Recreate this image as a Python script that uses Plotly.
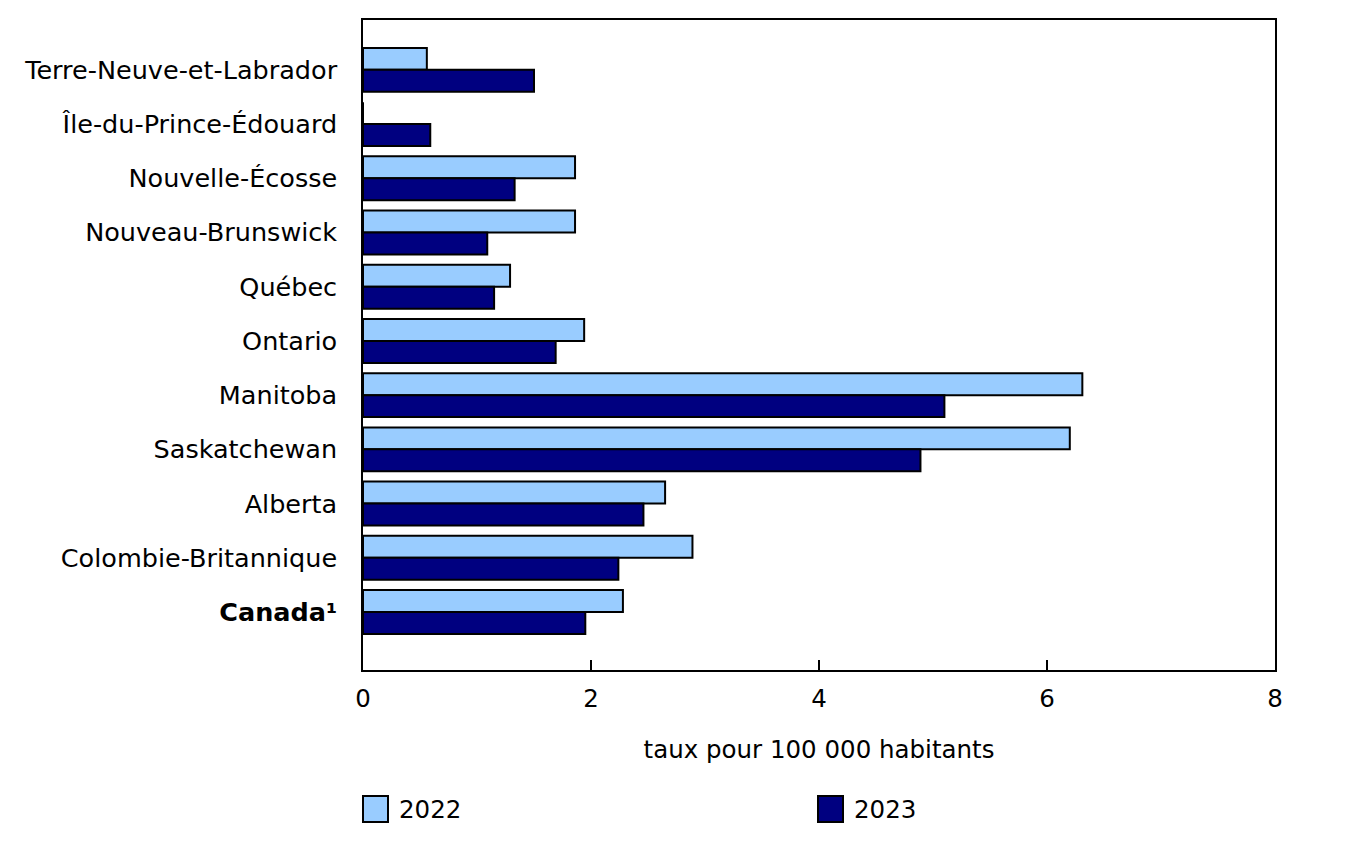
import plotly.graph_objects as go

categories = ["Terre-Neuve-et-Labrador", "Île-du-Prince-Édouard", "Nouvelle-Écosse",
              "Nouveau-Brunswick", "Québec", "Ontario", "Manitoba", "Saskatchewan",
              "Alberta", "Colombie-Britannique", "Canada¹"]
tick_labels = ["Terre-Neuve-et-Labrador", "Île-du-Prince-Édouard", "Nouvelle-Écosse",
               "Nouveau-Brunswick", "Québec", "Ontario", "Manitoba", "Saskatchewan",
               "Alberta", "Colombie-Britannique", "<b>Canada¹</b>"]
values_2022 = [0.56, 0.0, 1.86, 1.86, 1.29, 1.94, 6.31, 6.20, 2.65, 2.89, 2.28]
values_2023 = [1.50, 0.59, 1.33, 1.09, 1.15, 1.69, 5.10, 4.89, 2.46, 2.24, 1.95]
x_ticks = [0, 2, 4, 6, 8]
series_names = ["2022", "2023"]
series_colors = ["#99CCFF", "#000080"]

font_family = "DejaVu Sans, Verdana, sans-serif"
FS = 24.5

fig = go.Figure()
for name, vals, col in zip(series_names, [values_2022, values_2023], series_colors):
    fig.add_trace(go.Bar(y=categories, x=vals, orientation="h", name=name,
                         marker=dict(color=col, line=dict(color="black", width=2)),
                         showlegend=False))

# legend drawn as boxes + labels below the plot
legend_offsets = [0, 455]
for name, col, off in zip(series_names, series_colors, legend_offsets):
    fig.add_shape(type="rect", xref="paper", yref="paper",
                  xsizemode="pixel", ysizemode="pixel",
                  xanchor=0, yanchor=0, x0=off, x1=off + 25, y0=-126, y1=-152,
                  fillcolor=col, line=dict(color="black", width=2))
    fig.add_annotation(xref="paper", yref="paper", x=(off + 34) / 912, y=0,
                       yshift=-139, text=name, showarrow=False,
                       xanchor="left", yanchor="middle", font=dict(size=FS))

fig.update_layout(
    width=1353, height=833,
    margin=dict(l=355, r=86, t=12, b=171, autoexpand=False),
    paper_bgcolor="white", plot_bgcolor="white",
    font=dict(family=font_family, size=FS, color="black"),
    barmode="group", bargap=0.19, bargroupgap=0,
    showlegend=False,
    xaxis=dict(range=[0, 8], tickvals=x_ticks, ticks="inside", ticklen=10,
               tickwidth=1.5, tickcolor="black", showgrid=False, zeroline=False,
               showline=True, linecolor="black", linewidth=1.5, mirror=True,
               ticklabelstandoff=6,
               title=dict(text="taux pour 100 000 habitants", standoff=29,
                          font=dict(size=FS)),
               tickfont=dict(size=FS)),
    yaxis=dict(categoryorder="array", categoryarray=categories,
               tickvals=categories, ticktext=tick_labels,
               range=[10 + 1.07, -0.92], ticks="", showgrid=False, zeroline=False,
               showline=True, linecolor="black", linewidth=1.5, mirror=True,
               ticklabelstandoff=19, tickfont=dict(size=25.5)),
)

fig.write_html("out.html")
